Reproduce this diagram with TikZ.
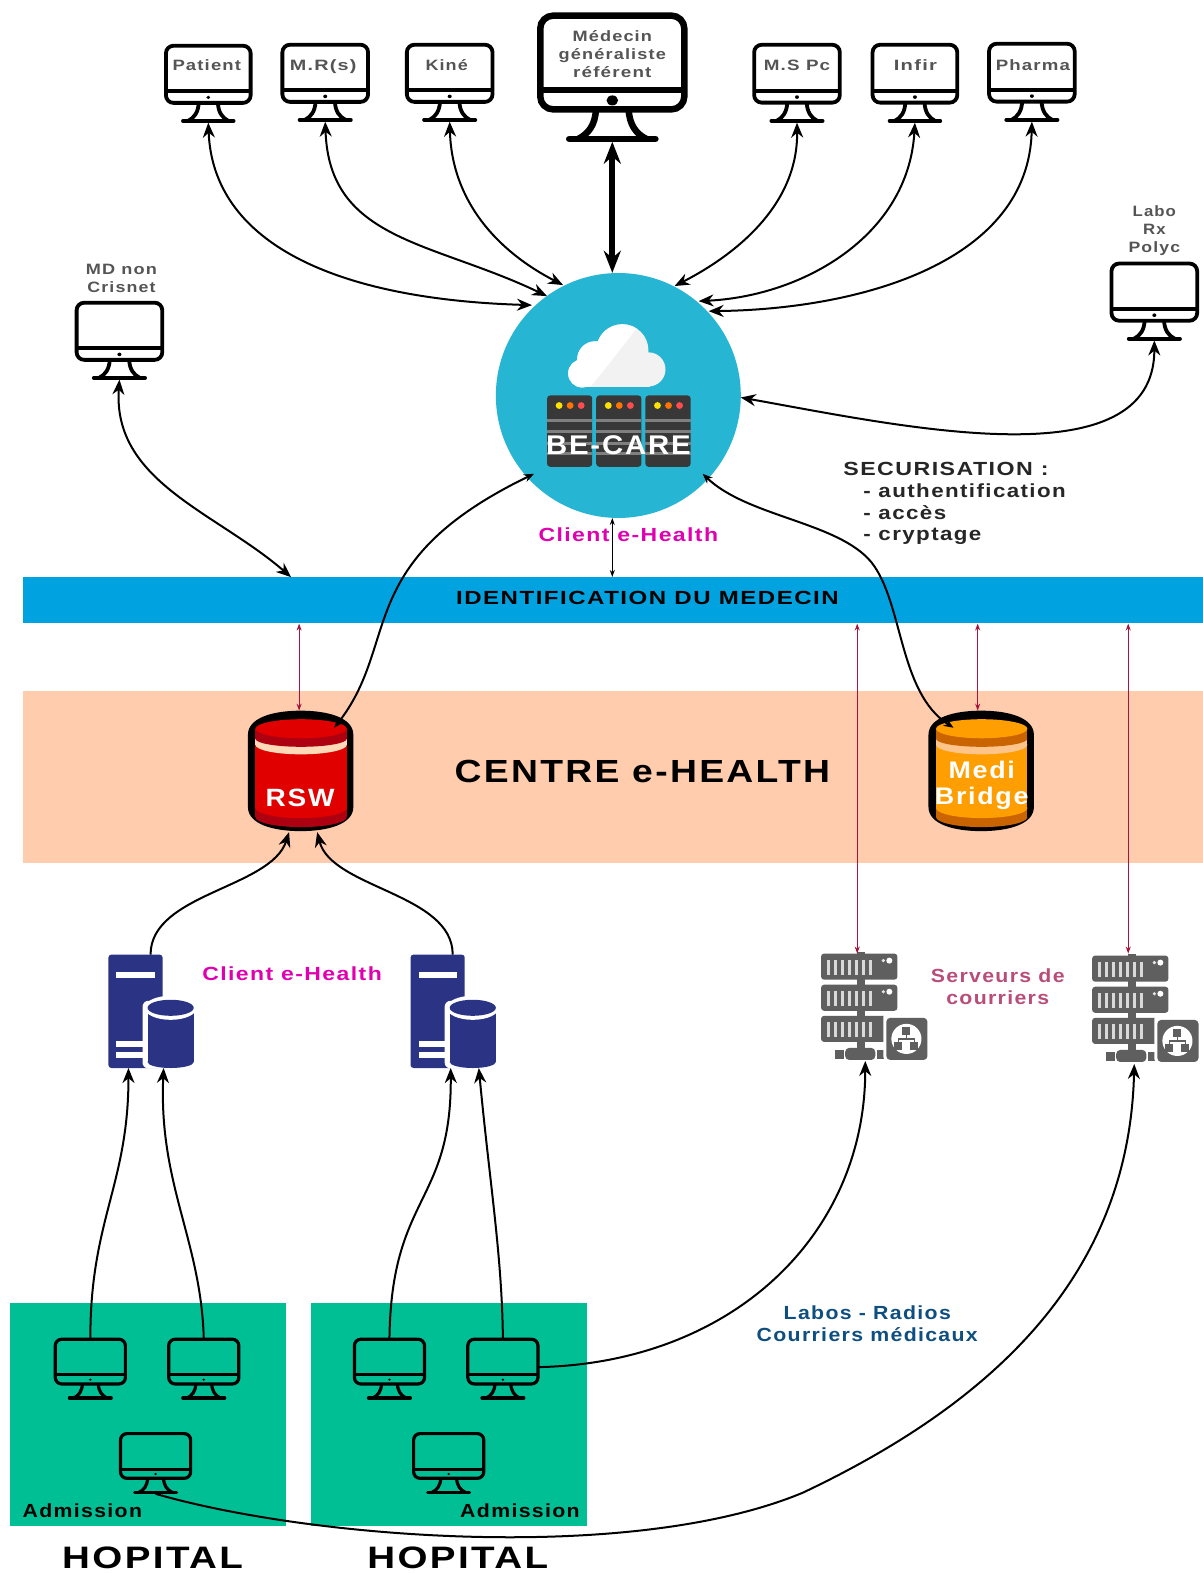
\documentclass[tikz,border=0pt]{standalone}
\usepackage{fontspec}
\setmainfont[LetterSpace=7,FakeStretch=1.12]{Liberation Sans}
\usetikzlibrary{arrows.meta,shapes.geometric}
\definecolor{labgray}{HTML}{555555}
\definecolor{barblue}{HTML}{00A3DF}
\definecolor{peach}{HTML}{FFCCAD}
\definecolor{teal}{HTML}{00BF95}
\definecolor{cloudblue}{HTML}{27B5D4}
\definecolor{magent}{HTML}{E000B0}
\definecolor{wine}{HTML}{A3153F}
\definecolor{rose}{HTML}{B84D7A}
\definecolor{petrol}{HTML}{0F4F7F}
\definecolor{navy}{HTML}{2B3384}
\definecolor{srvgray}{HTML}{5F5F5F}
\definecolor{rswred}{HTML}{E00000}
\definecolor{rswdark}{HTML}{AD0010}
\definecolor{rswcream}{HTML}{FFD9B8}
\definecolor{meorange}{HTML}{FF9E00}
\definecolor{medark}{HTML}{C96400}
\definecolor{mecream}{HTML}{FFC48A}
\newcommand\fz[1]{\fontsize{#1}{#1}\selectfont\bfseries}
\tikzset{
  lbl/.style={inner sep=0pt,align=center,anchor=center},
  leftlbl/.style={inner sep=0pt,anchor=west},
  anchorbox/.style={inner sep=0pt,draw=none,fill=none,rectangle},
  link/.style={line width=2pt,black,{Stealth[length=15pt,width=12pt]}-{Stealth[length=15pt,width=12pt]}},
  smalllink/.style={line width=2pt,black,{Stealth[length=10pt,width=8pt]}-{Stealth[length=10pt,width=8pt]}},
  oneway/.style={line width=2pt,black,-{Stealth[length=15pt,width=12pt]}},
  thinlink/.style={line width=1.2pt,{Stealth[length=7pt,width=5pt]}-{Stealth[length=7pt,width=5pt]}},
}
% name, x, y, w, h, line width
\newcommand\monitor[6]{%
  \node[anchorbox,minimum width=#4bp,minimum height=#5bp] (#1) at ({#2+#4/2},{#3+#5/2}) {};
  \begin{scope}[shift={(#2,#3)},xscale=#4/100,yscale=#5/100,line width=#6pt,black]
    \draw[rounded corners=#6*2pt] (1.5,2) rectangle (98.5,75);
    \draw (1.5,60) -- (98.5,60);
    \fill (50,68) circle[radius=#6*.6bp];
    \draw (39,75) .. controls (38.5,87) and (34,94) .. (27,98);
    \draw (61,75) .. controls (61.5,87) and (66,94) .. (73,98);
    \draw[line cap=round] (21,98) -- (79,98);
  \end{scope}}
% name, x, y, body colour, dark colour, cream colour
\newcommand\cyl[6]{%
  \node[anchorbox,minimum width=105bp,minimum height=120bp] (#1) at ({#2+52.5},{#3+60}) {};
  \begin{scope}[shift={(#2,#3)}]
    \fill[black] (0,24) .. controls (0,7) and (25,0) .. (52.5,0) .. controls (80,0) and (105,7) .. (105,24) -- (105,96) .. controls (105,113) and (80,120) .. (52.5,120) .. controls (25,120) and (0,113) .. (0,96) -- cycle;
    \fill[#5] (7.5,96) rectangle (98.5,106);
    \fill[#5] (53,106) ellipse[x radius=45.5,y radius=10];
    \fill[#4] (7.5,18) rectangle (98.5,97);
    \fill[#4] (53,97) ellipse[x radius=45.5,y radius=10];
    \fill[#6] (7.5,18) rectangle (98.5,34);
    \fill[#6] (53,34) ellipse[x radius=45.5,y radius=9.5];
    \fill[#5] (7.5,18) rectangle (98.5,28);
    \fill[#5] (53,28) ellipse[x radius=45.5,y radius=8];
    \fill[#4] (53,18) ellipse[x radius=45.5,y radius=9.5];
  \end{scope}}
% name, x, y : tower and database
\newcommand\towerdb[3]{%
  \node[anchorbox,minimum width=85bp,minimum height=113bp] (#1) at ({#2+42.5},{#3+56.5}) {};
  \begin{scope}[shift={(#2,#3)}]
    \fill[navy,rounded corners=3pt] (0,0) rectangle (54,113);
    \fill[white] (8,17) rectangle (46,23);
    \fill[white] (8,86) rectangle (40,92);
    \fill[white] (8,97) rectangle (40,103);
    \fill[white,rounded corners=6pt] (34,46) rectangle (60,113.5);
    \fill[navy] (39,53) rectangle (85,107);
    \fill[navy] (62,107) ellipse[x radius=23,y radius=6];
    \fill[white] (62,53) ellipse[x radius=26,y radius=12];
    \fill[navy] (62,53) ellipse[x radius=23,y radius=8];
  \end{scope}}
% name, x, y : mail server
\newcommand\mailsrv[3]{%
  \node[anchorbox,minimum width=106bp,minimum height=108bp] (#1) at ({#2+53},{#3+54}) {};
  \begin{scope}[shift={(#2,#3)}]
    \fill[srvgray] (36,0) rectangle (44,100);
    \foreach \yy in {2,33,64} {
      \fill[srvgray,rounded corners=3pt] (0,\yy) rectangle (76,\yy+26);
      \foreach \xx in {6,13,20,27,34,41,48} \fill[gray!30] (\xx,\yy+6) rectangle (\xx+3,\yy+21);
    }
    \foreach \yy in {2,33} {
      \fill[white] (68,\yy+7) circle[radius=3];
      \fill[white!80!gray] (62,\yy+7) circle[radius=1.8];
    }
    \fill[srvgray,rounded corners=4pt] (24,96) rectangle (54,108);
    \fill[srvgray] (14,98) rectangle (23,107);
    \fill[srvgray] (56,98) rectangle (63,107);
    \fill[white,rounded corners=5pt] (62,60) rectangle (110,110);
    \fill[srvgray,rounded corners=4pt] (65,66) rectangle (106,108);
    \fill[white] (85,87) circle[radius=15];
    \fill[srvgray] (81,75) rectangle (89,83);
    \fill[srvgray] (73,90) rectangle (81,98);
    \fill[srvgray] (89,90) rectangle (97,98);
    \draw[srvgray,line width=1.5pt] (85,83) -- (85,87) (77,90) -- (77,87) -- (93,87) -- (93,90);
  \end{scope}}
\newcommand\cloudfill[1]{%
  \fill[#1] (580,372) circle[radius=14];
  \fill[#1] (593,358) circle[radius=18];
  \fill[#1] (620,349) circle[radius=26];
  \fill[#1] (646,368) circle[radius=17];
  \fill[#1] (580,368) rectangle (648,386);}
% x : rack
\newcommand\rack[1]{%
  \begin{scope}[shift={(#1,394)}]
    \fill[black!78,rounded corners=3pt] (0,0) rectangle (45,71);
    \foreach \yy in {23,34,46,56} \fill[gray] (0,\yy) rectangle (45,\yy+3.5);
    \fill[yellow!85!orange] (12,10) circle[radius=3.4];
    \fill[orange!90!red] (23,10) circle[radius=3.4];
    \fill[red!70!white] (34,10) circle[radius=3.4];
  \end{scope}}
\begin{document}
\begin{tikzpicture}[x=1bp,y=-1bp]
\useasboundingbox (0,0) rectangle (1197.5,1567.1);
\fill[white] (0,0) rectangle (1202,1573);

% bands
\node[anchorbox,fill=barblue,minimum width=1175bp,minimum height=46bp] (bar) at (610.5,598) {};
\node[anchorbox,fill=peach,minimum width=1175bp,minimum height=172bp] (center) at (610.5,774) {};
\node[anchorbox,fill=teal,minimum width=275bp,minimum height=222bp] (hospa) at (147.5,1409) {};
\node[anchorbox,fill=teal,minimum width=275bp,minimum height=222bp] (hospb) at (447.5,1409) {};

% BE-CARE
\node[circle,fill=cloudblue,minimum size=244bp,inner sep=0pt] (care) at (616,394) {};
\cloudfill{white!90!gray}
\begin{scope}
  \clip (640,320) -- (588,386) -- (558,386) -- (558,320) -- cycle;
  \cloudfill{white}
\end{scope}
\rack{545}\rack{594}\rack{643}
\node[lbl,text=white,font=\fz{27},xscale=.97] (carelbl) at (616,444) {BE-CARE};

% monitors
\monitor{patient}{164}{44}{87}{78}{3.8}
\monitor{mrs}{280}{43}{88}{78}{3.8}
\monitor{kine}{404}{43}{88}{78}{3.8}
\monitor{gp}{536}{13}{148}{128}{6.5}
\monitor{mspc}{750}{43}{88}{79}{3.8}
\monitor{infir}{868}{43}{87}{79}{3.8}
\monitor{pharma}{984}{42}{88}{79}{3.8}
\monitor{labo}{1106}{261}{88}{78}{3.8}
\monitor{mdnon}{75}{300}{88}{78}{3.8}
\monitor{ha}{54}{1333}{72}{61}{3.2}
\monitor{hb}{167}{1333}{72}{61}{3.2}
\monitor{hc}{119}{1427}{72}{61}{3.2}
\monitor{hd}{352}{1333}{72}{61}{3.2}
\monitor{he}{465}{1333}{72}{61}{3.2}
\monitor{hf}{411}{1427}{72}{61}{3.2}

\node[lbl,text=labgray,font=\fz{15},xscale=1.1] (tpatient) at (206,65) {Patient};
\node[lbl,text=labgray,font=\fz{15},xscale=1.18] (tmrs) at (322,66) {M.R(s)};
\node[lbl,text=labgray,font=\fz{15},xscale=1.07] (tkine) at (445,65) {Kiné};
\node[lbl,text=labgray,font=\fz{15},xscale=1.08] (tgp1) at (610,36) {Médecin};
\node[lbl,text=labgray,font=\fz{15},xscale=1.08] (tgp2) at (610,55.5) {généraliste};
\node[lbl,text=labgray,font=\fz{15},xscale=1.12] (tgp3) at (610,72) {référent};
\node[lbl,text=labgray,font=\fz{15},xscale=1.12] (tmspc) at (794,65) {M.S Pc};
\node[lbl,text=labgray,font=\fz{15},xscale=1.2] (tinfir) at (912,65) {Infir};
\node[lbl,text=labgray,font=\fz{15},xscale=1.11] (tpharma) at (1029,65) {Pharma};
\node[lbl,text=labgray,font=\fz{15}] (tlabo1) at (1150,210) {Labo};
\node[lbl,text=labgray,font=\fz{15}] (tlabo2) at (1150,228) {Rx};
\node[lbl,text=labgray,font=\fz{15},xscale=1.05] (tlabo3) at (1150,247.5) {Polyc};
\node[lbl,text=labgray,font=\fz{15},xscale=1.08] (tmd1) at (121,268) {MD non};
\node[lbl,text=labgray,font=\fz{15},xscale=1.06] (tmd2) at (121,286) {Crisnet};

% cylinders
\cyl{rsw}{247}{708}{rswred}{rswdark}{rswcream}
\cyl{medi}{925}{708}{meorange}{medark}{mecream}
\node[lbl,text=white,font=\fz{25}] (trsw) at (299,795) {RSW};
\node[lbl,text=white,font=\fz{24}] (tmedi1) at (978,767) {Medi};
\node[lbl,text=white,font=\fz{24}] (tmedi2) at (978,795) {Bridge};

% servers
\towerdb{ta}{108}{951}
\towerdb{tb}{409}{951}
\mailsrv{ma}{818}{948}
\mailsrv{mb}{1088}{950}

% band labels and notes
\node[lbl,text=black,font=\fz{19},xscale=1.13] (tbar) at (645,596) {IDENTIFICATION DU MEDECIN};
\node[lbl,text=black,font=\fz{32},xscale=1.04] (tcenter) at (640,769) {CENTRE e-HEALTH};
\node[lbl,text=magent,font=\fz{19},xscale=1.08] (tc1) at (626,533) {Client e-Health};
\node[lbl,text=magent,font=\fz{19},xscale=1.08] (tc2) at (291,970) {Client e-Health};
\node[leftlbl,text=black!85,font=\fz{19},xscale=1.09] (ts0) at (840,467) {SECURISATION :};
\node[leftlbl,text=black!85,font=\fz{19},xscale=1.05] (ts1) at (860,489) {- authentification};
\node[leftlbl,text=black!85,font=\fz{19},xscale=1.05] (ts2) at (860,511) {- accès};
\node[leftlbl,text=black!85,font=\fz{19},xscale=1.05] (ts3) at (860,534.5) {- cryptage};
\node[lbl,text=rose,font=\fz{19}] (tsv1) at (994,972) {Serveurs de};
\node[lbl,text=rose,font=\fz{19}] (tsv2) at (994,994) {courriers};
\node[lbl,text=petrol,font=\fz{19}] (tlb1) at (864,1308) {Labos - Radios};
\node[lbl,text=petrol,font=\fz{19}] (tlb2) at (864,1330) {Courriers médicaux};
\node[lbl,text=black,font=\fz{19}] (tad1) at (82,1505) {Admission};
\node[lbl,text=black,font=\fz{19}] (tad2) at (518,1505) {Admission};
\node[lbl,text=black,font=\fz{31},xscale=1.11] (tho1) at (152,1552) {HOPITAL};
\node[lbl,text=black,font=\fz{31},xscale=1.11] (tho2) at (456,1552) {HOPITAL};

% connectors: top monitors
\coordinate (c1) at (530,304);
\coordinate (c2) at (545,295);
\coordinate (c3) at (561,284);
\coordinate (c4) at (672,285);
\coordinate (c5) at (696,300);
\coordinate (c6) at (706,310);
\coordinate (c7) at (738,396);
\coordinate (c8) at (532,472);
\coordinate (c9) at (700,472);
\coordinate (r1) at (333,725);
\coordinate (r2) at (950,725);
\coordinate (c9m) at (868,560);
\draw[link] (patient.south) .. controls (212,240) and (330,298) .. (c1);
\draw[link] (mrs.south) .. controls (328,240) and (430,240) .. (c2);
\draw[link] (kine.south) .. controls (450,200) and (495,250) .. (c3);
\draw[line width=6pt,{Stealth[length=22pt,width=17pt]}-{Stealth[length=22pt,width=17pt]}] (gp.south) -- (care.north -| gp.south);
\draw[link] (mspc.south) .. controls (795,200) and (740,250) .. (c4);
\draw[link] (infir.south) .. controls (905,235) and (800,295) .. (c5);
\draw[link] (pharma.south) .. controls (1025,260) and (860,308) .. (c6);
\draw[link] (labo.south) .. controls (1150,480) and (900,425) .. (c7);
\coordinate (bar1) at (290,575);
\draw[link] (mdnon.south) .. controls (112,480) and (215,510) .. (bar1);
\draw[smalllink] (c8) .. controls (350,560) and (400,640) .. (r1);
\draw[smalllink] (c9) .. controls (745,515) and (835,520) .. (c9m) .. controls (900,600) and (895,690) .. (r2);
\coordinate (carebot) at (610,516);
\draw[thinlink,black] (carebot) -- (carebot |- bar.north);

% red links
\coordinate (rswtop) at (298,708);
\coordinate (meditop) at (974,708);
\coordinate (matop) at (854,950);
\coordinate (mbtop) at (1124,950);
\draw[thinlink,wine] (rswtop |- bar.south) -- (rswtop);
\draw[thinlink,wine] (meditop |- bar.south) -- (meditop);
\draw[thinlink,wine] (matop |- bar.south) -- (matop);
\draw[thinlink,wine] (mbtop |- bar.south) -- (mbtop);

% towers to RSW
\coordinate (ra) at (288,829);
\coordinate (rb) at (316,829);
\coordinate (tat) at (150,951);
\coordinate (tbt) at (451,951);
\draw[oneway] (tat) .. controls (150,890) and (270,885) .. (ra);
\draw[oneway] (tbt) .. controls (451,890) and (330,885) .. (rb);

% hospital to towers
\coordinate (ha1) at (128,1064);
\coordinate (ha2) at (163,1064);
\coordinate (hb1) at (449,1064);
\coordinate (hb2) at (477,1064);
\draw[oneway] (ha.north) .. controls (90,1215) and (128,1180) .. (ha1);
\draw[oneway] (hb.north) .. controls (200,1235) and (158,1180) .. (ha2);
\draw[oneway] (hd.north) .. controls (390,1190) and (450,1200) .. (hb1);
\draw[oneway] (he.north) .. controls (500,1250) and (488,1180) .. (hb2);
\coordinate (ma1) at (862,1057);
\coordinate (heout) at (536,1362);
\draw[oneway] (heout) .. controls (730,1358) and (862,1230) .. (ma1);
\coordinate (mb1) at (1130,1060);
\coordinate (mid) at (800,1487);
\draw[oneway] (hc.south) .. controls (310,1533) and (630,1558) .. (mid) .. controls (990,1397) and (1125,1270) .. (mb1);
\end{tikzpicture}
\end{document}
